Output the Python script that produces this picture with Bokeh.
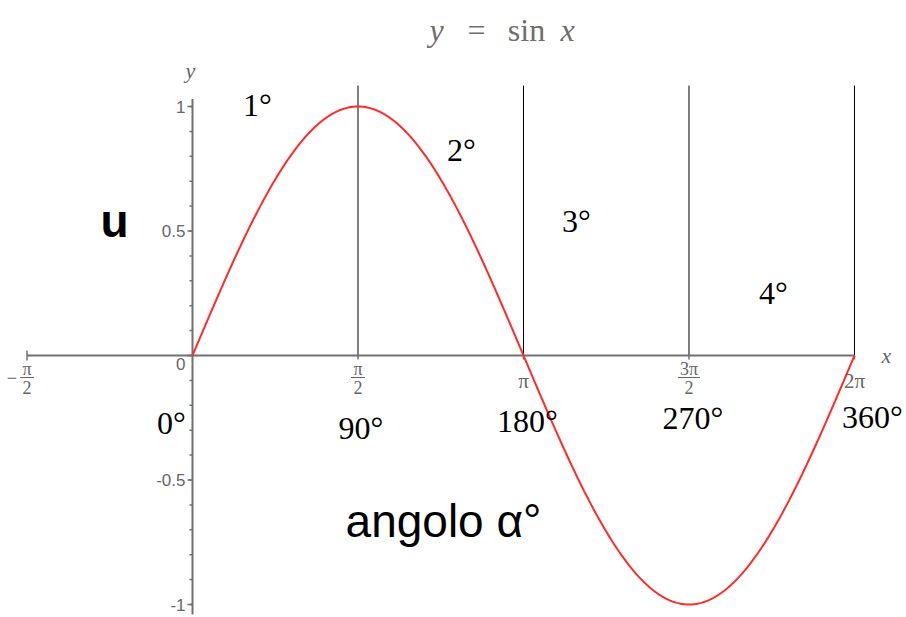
import numpy as np
from bokeh.plotting import figure
from bokeh.models import Range1d, ColumnDataSource
from bokeh.core.properties import value
from bokeh.embed import file_html
from bokeh.resources import INLINE

# ---- data -------------------------------------------------------------
# the plotted function y = sin x over one full turn
curve_x = np.linspace(0.0, 2.0 * np.pi, 721)
curve_y = np.sin(curve_x)

# x axis ticks (radians) and their stacked-fraction labels
x_ticks = [-np.pi / 2, np.pi / 2, np.pi, 3 * np.pi / 2, 2 * np.pi]
x_tick_sign = ["\u2212", "", "", "", ""]
x_tick_num = ["\u03c0", "\u03c0", "\u03c0", "3\u03c0", "2\u03c0"]
x_tick_den = ["2", "2", "", "2", ""]

# y axis: labelled ticks and minor ticks
y_ticks = [1.0, 0.5, 0.0, -0.5, -1.0]
y_tick_labels = ["1", "0.5", "0", "-0.5", "-1"]
y_minor = [round(v, 1) for v in np.arange(-1.0, 1.01, 0.1)]

# quadrant boundaries (vertical guides) and degree labels
guide_x = [np.pi / 2, np.pi, 3 * np.pi / 2, 2 * np.pi]
angle_deg = [0, 90, 180, 270, 360]
angle_labels = ["0\u00b0", "90\u00b0", "180\u00b0", "270\u00b0", "360\u00b0"]
quadrant_labels = ["1\u00b0", "2\u00b0", "3\u00b0", "4\u00b0"]

# ---- layout -----------------------------------------------------------
W, H = 906, 617
OX, OY = 192.0, 355.0          # origin on the canvas
SX, SY = 105.36, 249.0         # pixels per unit

p = figure(width=W, height=H, output_backend="svg", toolbar_location=None,
           x_axis_type=None, y_axis_type=None, min_border=0,
           x_range=Range1d(-OX / SX, (W - OX) / SX),
           y_range=Range1d(-(H - OY) / SY, OY / SY))
p.grid.visible = False
p.outline_line_color = None
p.background_fill_color = "white"
p.border_fill_color = "white"

def dx(px):
    return px / SX

def dy(px):
    return px / SY

AXIS = "#707070"
LABEL = "#666666"
SERIF = value("Liberation Serif")
SANS = value("Liberation Sans")

# vertical guides at the quadrant boundaries
p.segment(x0=guide_x, y0=[0] * 4, x1=guide_x, y1=[1.084] * 4,
          line_color="black", line_width=1)

# x axis line and ticks
p.segment(x0=[x_ticks[0]], y0=[0], x1=[x_ticks[-1]], y1=[0],
          line_color=AXIS, line_width=2)
p.segment(x0=x_ticks[1:], y0=[0] * 4, x1=x_ticks[1:], y1=[-dy(4)] * 4,
          line_color=AXIS, line_width=1.5)
p.segment(x0=[x_ticks[0]], y0=[dy(5)], x1=[x_ticks[0]], y1=[-dy(5)],
          line_color=AXIS, line_width=1.5)

# y axis line and ticks
p.segment(x0=[0], y0=[-1.04], x1=[0], y1=[1.03], line_color=AXIS, line_width=2)
p.segment(x0=[0] * len(y_minor), y0=y_minor, x1=[-dx(3)] * len(y_minor), y1=y_minor,
          line_color=AXIS, line_width=1.5)
p.segment(x0=[0] * len(y_ticks), y0=y_ticks, x1=[-dx(5)] * len(y_ticks), y1=y_ticks,
          line_color=AXIS, line_width=1.5)

# y tick labels (the zero label sits just under the x axis)
ylab_y = [v if v != 0 else -dy(8) for v in y_ticks]
p.text(x=[-dx(7)] * len(y_ticks), y=ylab_y, text=y_tick_labels,
       text_align="right", text_baseline="middle", text_color=LABEL,
       text_font=SANS, text_font_size="17px")

# x tick labels as stacked fractions
for xv, sg, nu, de in zip(x_ticks, x_tick_sign, x_tick_num, x_tick_den):
    if de:
        p.text(x=[xv], y=[-dy(13)], text=[nu], text_align="center",
               text_baseline="middle", text_color=LABEL, text_font=SERIF,
               text_font_size="18px")
        half = dx(3 + 4 * len(nu))
        p.segment(x0=[xv - half], y0=[-dy(22)], x1=[xv + half], y1=[-dy(22)],
                  line_color=LABEL, line_width=1)
        p.text(x=[xv], y=[-dy(32)], text=[de], text_align="center",
               text_baseline="middle", text_color=LABEL, text_font=SERIF,
               text_font_size="18px")
        if sg:
            p.text(x=[xv - dx(10)], y=[-dy(22)], text=[sg], text_align="right",
                   text_baseline="middle", text_color=LABEL, text_font=SERIF,
                   text_font_size="18px")
    else:
        p.text(x=[xv], y=[-dy(25)], text=[nu], text_align="center",
               text_baseline="middle", text_color=LABEL, text_font=SERIF,
               text_font_size="21px")

# axis names
p.text(x=[dx(694)], y=[0], text=["x"], text_align="center", text_baseline="middle",
       text_color=LABEL, text_font=SERIF, text_font_style="italic",
       text_font_size="22px")
p.text(x=[-dx(2)], y=[dy(285)], text=["y"], text_align="center", text_baseline="middle",
       text_color=LABEL, text_font=SERIF, text_font_style="italic",
       text_font_size="22px")

# the sine curve
src = ColumnDataSource(dict(x=curve_x, y=curve_y))
p.line("x", "y", source=src, line_color="#ff2a2a", line_width=2)

# degree labels under the axis
ang_rad = [np.deg2rad(a) for a in angle_deg]
ang_dx = [-dx(21), dx(3), dx(4), dx(4), dx(18)]
ang_dy = [-dy(67), -dy(72), -dy(65), -dy(62), -dy(61)]
p.text(x=[a + o for a, o in zip(ang_rad, ang_dx)], y=ang_dy, text=angle_labels,
       text_align="center", text_baseline="middle", text_color="black",
       text_font=SERIF, text_font_size="32px")

# quadrant numbers
quad_x = [dx(65), dx(269), dx(384), dx(581)]
quad_y = [dy(251), dy(206), dy(135), dy(63)]
p.text(x=quad_x, y=quad_y, text=quadrant_labels, text_align="center",
       text_baseline="middle", text_color="black", text_font=SERIF,
       text_font_size="32px")

# unit and angle captions
p.text(x=[-dx(78)], y=[dy(135)], text=["u"], text_align="center",
       text_baseline="middle", text_color="black", text_font=SANS,
       text_font_style="bold", text_font_size="46px")
p.text(x=[dx(251)], y=[-dy(165)], text=["angolo \u03b1\u00b0"], text_align="center",
       text_baseline="middle", text_color="black", text_font=SANS,
       text_font_size="46px")

# title: y = sin x
title_parts = ["y", "=", "sin", "x"]
title_px = [244, 284, 334, 375]
title_style = ["italic", "normal", "normal", "italic"]
for t, px, st in zip(title_parts, title_px, title_style):
    p.text(x=[dx(px)], y=[dy(326)], text=[t], text_align="center",
           text_baseline="middle", text_color="#6e6e6e", text_font=SERIF,
           text_font_style=st, text_font_size="32px")

open("out.html", "w").write(file_html(p, INLINE))
